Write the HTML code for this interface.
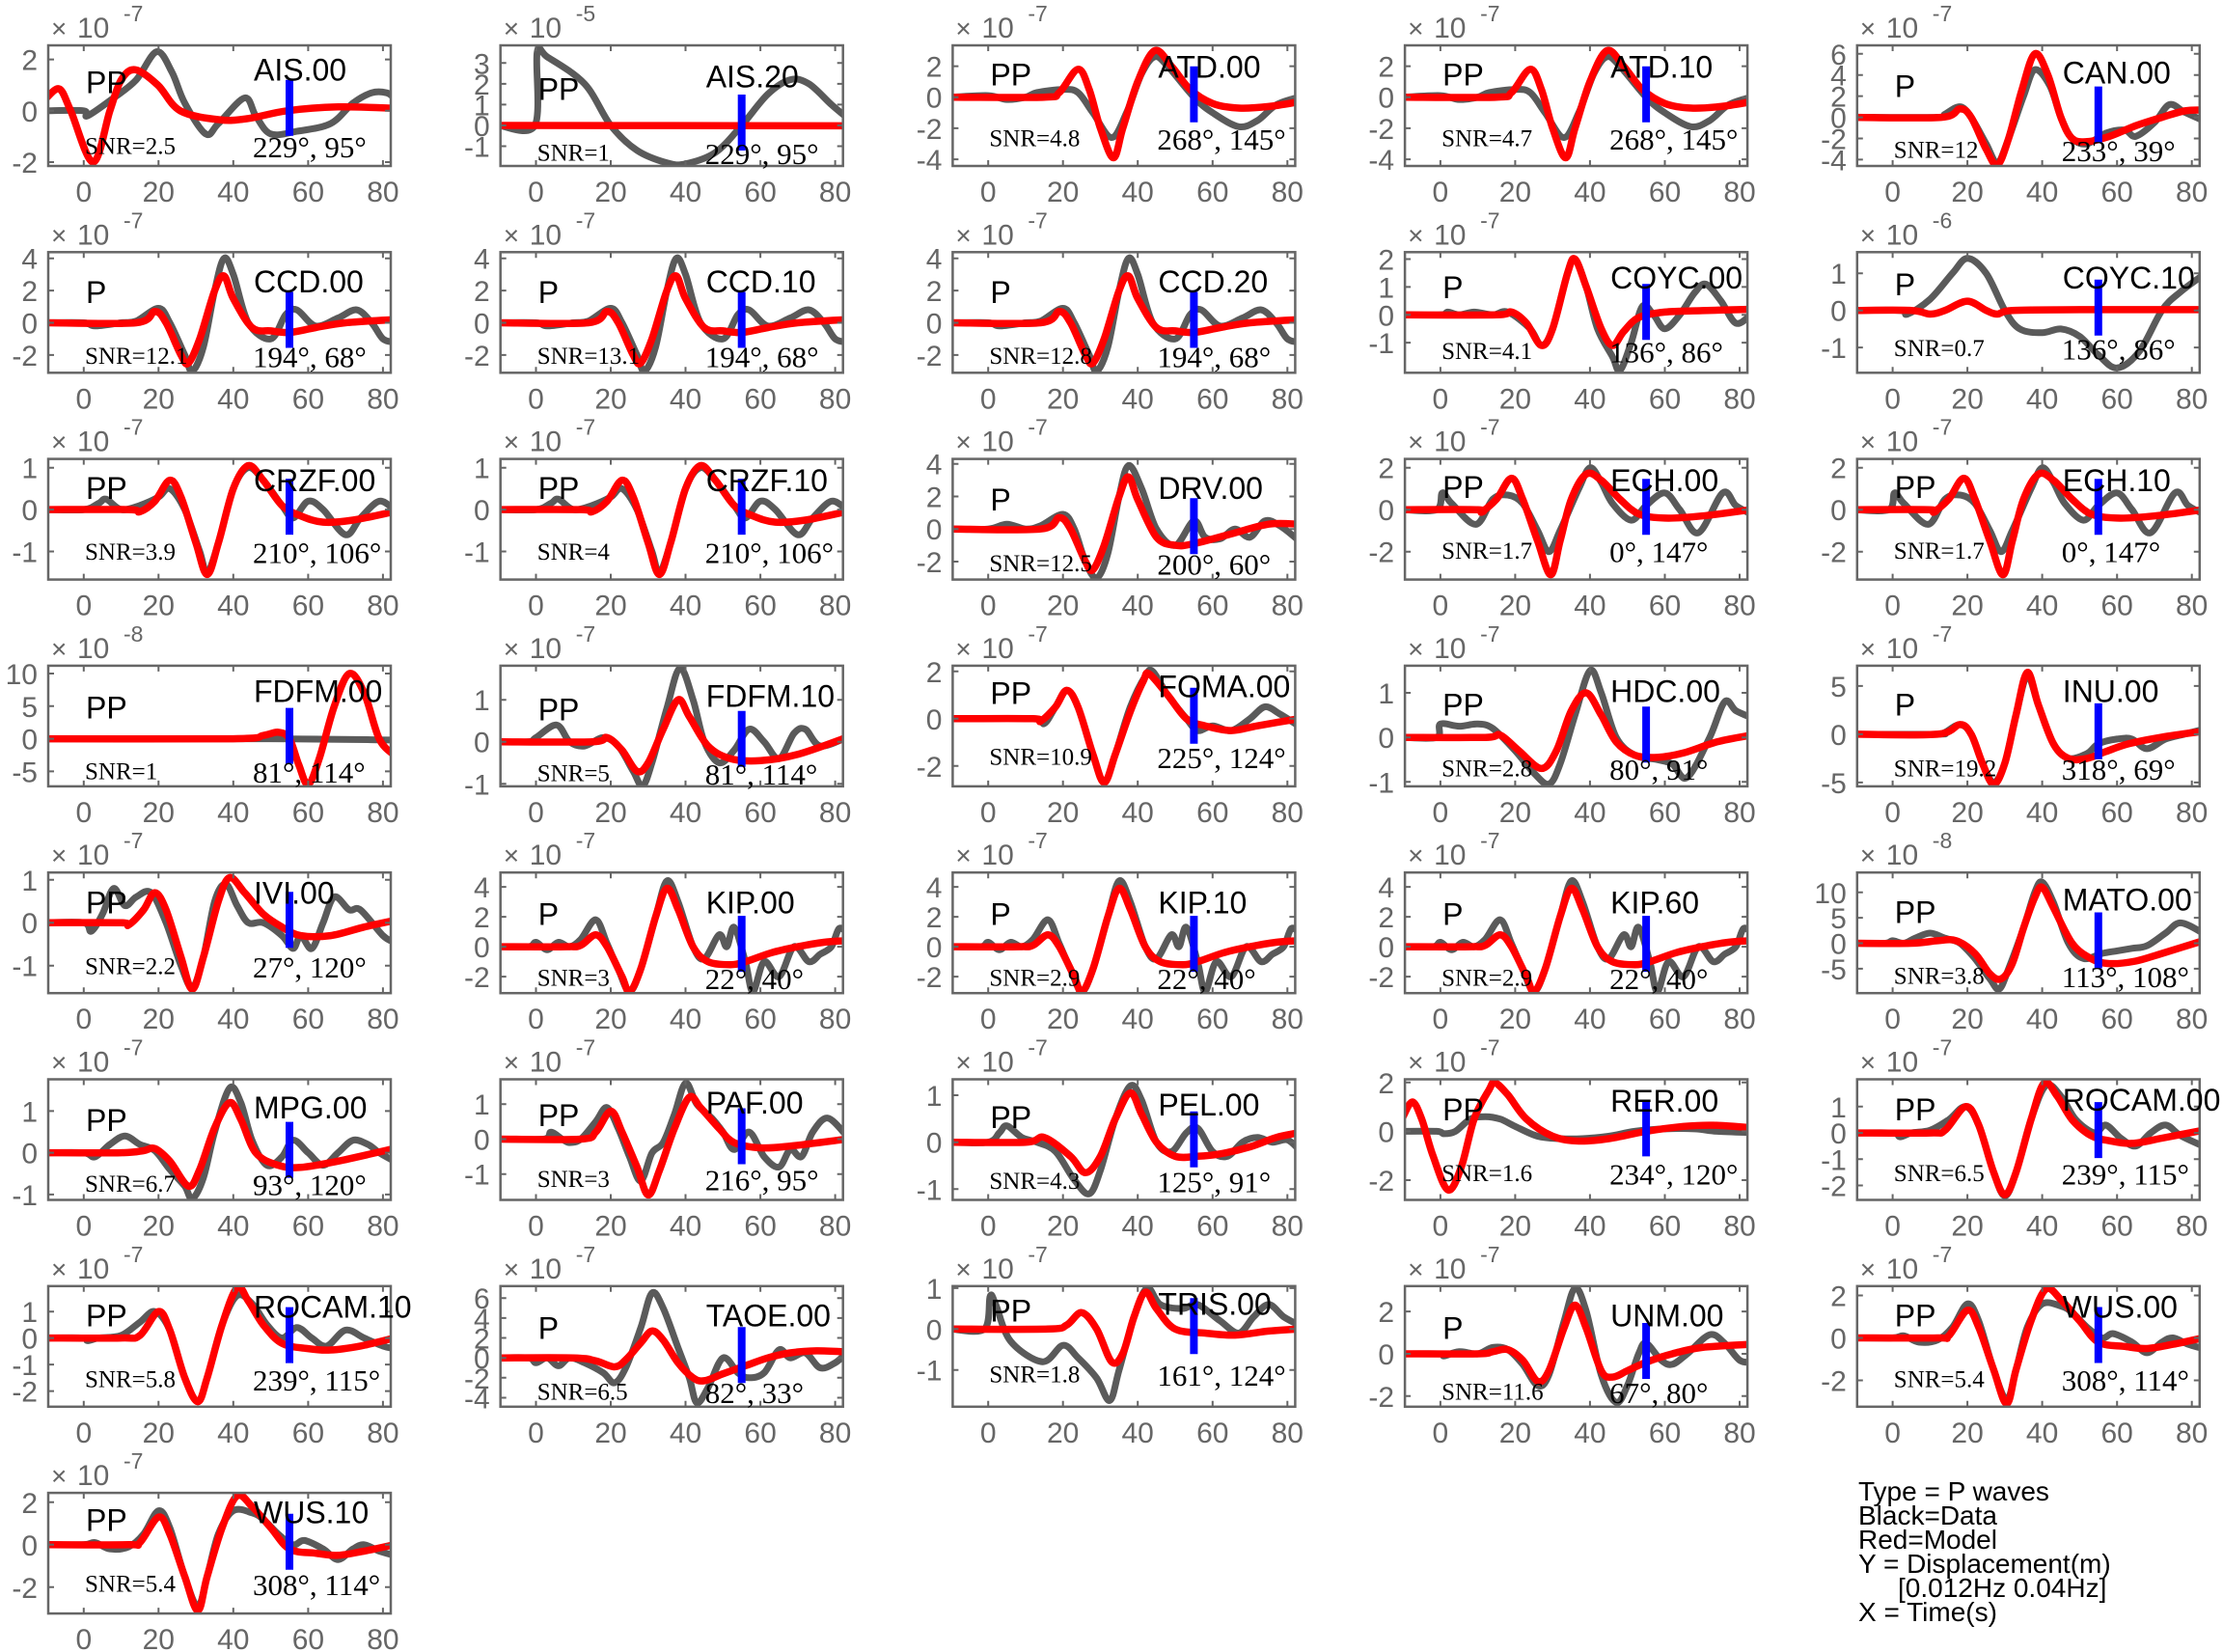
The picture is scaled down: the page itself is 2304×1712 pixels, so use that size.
<!DOCTYPE html>
<html><head><meta charset="utf-8"><style>
html,body{margin:0;padding:0;background:#fff;}
svg{display:block;}
.tk{font-family:"Liberation Sans",sans-serif;font-size:30px;fill:#666;}
.nm{font-family:"Liberation Sans",sans-serif;font-size:32px;fill:#000;}
.sr{font-family:"Liberation Serif",serif;fill:#000;}
.lg{font-family:"Liberation Sans",sans-serif;font-size:28px;fill:#000;}
</style></head><body>
<svg id="s" width="2304" height="1712" xmlns="http://www.w3.org/2000/svg">
<rect width="2304" height="1712" fill="#fff"/>
<g id="g"></g>
<text class="lg" x="1926" y="1555">Type = P waves</text>
<text class="lg" x="1926" y="1580">Black=Data</text>
<text class="lg" x="1926" y="1605">Red=Model</text>
<text class="lg" x="1926" y="1630">Y = Displacement(m)</text>
<text class="lg" x="1967" y="1655">[0.012Hz 0.04Hz]</text>
<text class="lg" x="1926" y="1680">X = Time(s)</text>
</svg>
<script>
const KIPD=[-10,0,-2,0,0,0.3,3,-0.2,6,0.3,9,0,12,0.5,16,1.8,19,0.2,22,-1.5,25,-3,28,-1.5,32,2,35,4.4,38,3,42,0,45,-0.8,49,0.8,51,0,53,1.3,56,-1,58,-3,61,-1,65,-2,69,0,73,-1,76,-0.5,79,0,81,1.2,83,1.0];
const KIPM=[-10,0,8,0,12,0.1,16,0.8,19,0,23,-2,25,-3,28,-1.5,32,2,35,3.9,38,2.5,42,0,46,-1,52,-1.2,56,-1,63,-0.4,70,0,77,0.3,83,0.4];
const CCDD=[-10,0,0,0,3,-0.2,10,0,14,0.1,20,0.9,23,0,27,-2,29,-3,32,-1.5,35,2,37.5,4,40,3,44,0,50,-1,54,0.5,57,0.8,62,-0.2,68,0.3,73,0.8,77,0,80,-1,83,-1.2];
const CCDM=[-10,0,14,0,19,0.7,22,0,26,-2,28,-2.5,31,-1,35,2,37.5,2.9,40,1.5,45,-0.3,50,-0.5,55,-0.6,62,-0.3,70,0,83,0.2];
const ATDD=[-10,0,0,0.1,5,-0.15,10,0,13,0.3,20,0.5,24,0.3,28,-1,33,-2.6,37,-1,41,1.5,44.5,2.6,48,2.0,55,0,60,-1,67,-1.9,72,-1.5,77,-0.5,83,0];
const ATDM=[-10,0,15,0,19,0.3,24,1.8,27,0.5,30,-2,33.5,-3.9,36,-2,40,1,44.5,3,49,2,54,0.5,60,-0.4,67,-0.7,75,-0.6,83,-0.3];
const CRZD=[-10,0,0,0,4,0.15,6,0.25,10,0,15,0.1,20,0.3,23,0.5,27,0,31,-1,33,-1.5,36,-0.8,40,0.5,44,1.0,48,0.7,53,0.1,56,-0.2,60,0.2,64,0,70,-0.6,74,-0.2,79,0.2,83,0];
const CRZM=[-10,0,12,0,15,-0.05,19,0.2,23,0.7,26,0.3,30,-0.8,33,-1.55,36,-0.8,40,0.5,44,1.05,48,0.7,53,0.1,58,-0.15,64,-0.3,72,-0.25,83,-0.05];
const ECHD=[-10,0,-1,0,0.5,0.8,3,0.3,9.5,-0.7,14,0.5,18,0.7,22,0.3,26,-1.0,29,-2.0,32,-1,37,1.0,40,2.0,43,1.3,46,0.3,51,-0.5,55,0.2,60,0.8,64,0,69,-1.1,75.5,0.8,79,0.2,83,-0.2];
const ECHM=[-10,0,10,0,11,-0.1,15,0.5,19,1.5,22,0.5,26,-1.5,29.5,-3.1,32,-1.5,35,0.5,39,1.7,43,1.4,48,0.5,53,-0.2,60,-0.4,70,-0.3,83,0];
const WUSD=[-10,0,0,0,3,0.1,7,-0.2,12,-0.1,16,0.5,20,1.6,23,0.8,27,-1.5,30.5,-2.9,33,-1.5,36,0.5,40,1.6,45,1.5,48,1.2,52,0.5,56,0,59,0.2,64,-0.2,68,-0.7,72,-0.2,75,0,79,-0.3,83,-0.5];
const WUSM=[-10,0,12,0,15,0.1,20,1.3,23,0.5,27,-1.5,30.5,-3.1,33,-1.5,37,0.8,41,2.3,45,1.8,50,0.8,55,-0.2,62,-0.4,68,-0.5,75,-0.3,83,0];
const P=[
{n:'AIS.00',ph:'PP',e:'-7',yl:[-2.15,2.55],tk:[-2,0,2],snr:'2.5',az:'229°, 95°',o:[25,38],
 D:[-10,0,0,0,1,-0.2,8,0.5,14,1.2,19.5,2.3,23.6,1.5,27,0.3,32.6,-0.9,36,-0.5,43,0.5,46,-0.2,50,-0.9,57,-0.8,66,-0.5,72,0.3,77,0.7,81,0.7,83,0.5],
 M:[-10,0.5,-6.5,0.85,-3.5,0,2.5,-2.0,7,0,10,1.2,13.8,1.6,19.8,1.0,25.8,0,36.4,-0.35,44,-0.3,54.4,0,68,0.15,83,0.1]},
{n:'AIS.20',ph:'PP',e:'-5',yl:[-1.95,3.85],tk:[-1,0,1,2,3],snr:'1',az:'229°, 95°',o:[32,45],
 D:[-10,0,-0.3,0,0.3,3.5,3,3.3,13,2,20,0,27,-1.2,35,-1.8,40,-1.85,48,-1.3,55,0,62,1.5,68,2.2,73,2.0,79,1.0,83,0.4],
 M:[-10,0,83,-0.02]},
{n:'ATD.00',ph:'PP',e:'-7',yl:[-4.43,3.34],tk:[-4,-2,0,2],snr:'4.8',az:'268°, 145°',o:[22,30],D:ATDD,M:ATDM},
{n:'ATD.10',ph:'PP',e:'-7',yl:[-4.43,3.34],tk:[-4,-2,0,2],snr:'4.7',az:'268°, 145°',o:[22,30],D:ATDD,M:ATDM},
{n:'CAN.00',ph:'P',e:'-7',yl:[-4.6,6.8],tk:[-4,-2,0,2,4,6],snr:'12',az:'233°, 39°',o:[28,42],
 D:[-10,0,12,0,14,0.3,18,1.0,21,0,25,-2.5,28,-4.3,31,-2,35,2,38,4.5,42,3,45,0,48,-2,52,-2.5,57,-1.5,62,-1.2,65,-1.8,70,-0.5,74,1.2,78,0.5,83,-0.3],
 M:[-10,0,13,0,18,0.8,21,0,25,-3,28,-4.5,31,-2,34.5,2.5,38,6,41.5,4,45,0,48,-2,52,-2.3,58,-1.8,65,-0.8,72,0,78,0.6,83,0.7]},
{n:'CCD.00',ph:'P',e:'-7',yl:[-3.1,4.38],tk:[-2,0,2,4],snr:'12.1',az:'194°, 68°',o:[30,41],D:CCDD,M:CCDM},
{n:'CCD.10',ph:'P',e:'-7',yl:[-3.1,4.38],tk:[-2,0,2,4],snr:'13.1',az:'194°, 68°',o:[30,41],D:CCDD,M:CCDM},
{n:'CCD.20',ph:'P',e:'-7',yl:[-3.1,4.38],tk:[-2,0,2,4],snr:'12.8',az:'194°, 68°',o:[30,41],D:CCDD,M:CCDM},
{n:'COYC.00',ph:'P',e:'-7',yl:[-2.08,2.25],tk:[-1,0,1,2],snr:'4.1',az:'136°, 86°',o:[26,36],
 D:[-10,0,0,0,2,0.1,5,0,9,0.1,14,0,18,0.1,24,-0.5,27,-1.1,30,-0.5,34,1.5,36,2.0,39,1,42,-0.5,46,-1.5,48,-2,51,-1,54,0.3,57,0,60,-0.5,64,0,68,0.8,71,1.1,75,0.5,79,-0.3,83,0],
 M:[-10,0,15,0,19,0.1,23,-0.3,27,-1.1,30,-0.5,34,1.5,36,2.0,39,1,43,-0.5,46,-1.1,49,-0.6,53,-0.1,60,0.1,70,0.15,83,0.2]},
{n:'COYC.10',ph:'P',e:'-6',yl:[-1.68,1.57],tk:[-1,0,1],snr:'0.7',az:'136°, 86°',o:[26,33],
 D:[-10,0,2,0,4,-0.1,10,0.3,16,1.0,20,1.4,25,1.0,30,0,34,-0.5,40,-0.6,45,-0.5,50,-0.7,55,-1.2,60,-1.55,66,-1.1,72,0,77,0.5,83,0.95],
 M:[-10,0,5,0,10,-0.1,14,0,20,0.25,25,0,28,-0.1,32,0,50,0.02,83,0.02]},
{n:'CRZF.00',ph:'PP',e:'-7',yl:[-1.67,1.21],tk:[-1,0,1],snr:'3.9',az:'210°, 106°',o:[22,30],D:CRZD,M:CRZM},
{n:'CRZF.10',ph:'PP',e:'-7',yl:[-1.67,1.21],tk:[-1,0,1],snr:'4',az:'210°, 106°',o:[22,30],D:CRZD,M:CRZM},
{n:'DRV.00',ph:'P',e:'-7',yl:[-3.1,4.3],tk:[-2,0,2,4],snr:'12.5',az:'200°, 60°',o:[30,42],
 D:[-10,0,0,0,5,0.3,10,0,14,0.2,20,0.9,23,0,26,-2,29,-3,32,-1.5,35,2,37.5,3.9,41,2.5,45,0,50,-1,55,0.5,58,-0.5,62,-0.6,66,0,70,-0.5,74,0.5,78,0.2,83,-0.7],
 M:[-10,0,14,0,19,0.7,22,0,26,-2,28,-2.5,31,-1,35,2,37.5,3.2,40,1.8,45,-0.5,50,-1,55,-0.9,65,-0.3,75,0.3,83,0.3]},
{n:'ECH.00',ph:'PP',e:'-7',yl:[-3.33,2.42],tk:[-2,0,2],snr:'1.7',az:'0°, 147°',o:[22,29],D:ECHD,M:ECHM},
{n:'ECH.10',ph:'PP',e:'-7',yl:[-3.33,2.42],tk:[-2,0,2],snr:'1.7',az:'0°, 147°',o:[22,29],D:ECHD,M:ECHM},
{n:'FDFM.00',ph:'PP',e:'-8',yl:[-7.3,11.2],tk:[-5,0,5,10],snr:'1',az:'81°, 114°',o:[26,43],
 D:[-10,0,50,0,83,-0.2],
 M:[-10,0,40,0,48,0.5,52,1,55,0,57.5,-4,60,-7,63,-3,67,5,71,10,75,7,79,0,83,-2.5]},
{n:'FDFM.10',ph:'PP',e:'-7',yl:[-1.06,1.81],tk:[-1,0,1],snr:'5',az:'81°, 114°',o:[31,45],
 D:[-10,0,-2,0,0,0.1,5.5,0.4,9,0,13,-0.1,18,0.1,22,-0.1,26,-0.7,28.5,-1.05,31,-0.5,35,0.8,38.5,1.75,42,1.0,45,0,49,-0.5,53,-0.2,57,0.3,61,0,65,-0.4,69,0.2,72,0.3,76,-0.1,83,0.1],
 M:[-10,0,15,0,19,0.1,23,-0.2,27,-0.7,30,-0.5,34,0.3,38,1.0,41,0.6,46,-0.1,52,-0.4,60,-0.45,70,-0.3,83,0.1]},
{n:'FOMA.00',ph:'PP',e:'-7',yl:[-2.86,2.24],tk:[-2,0,2],snr:'10.9',az:'225°, 124°',o:[21,28],
 D:[-10,0,12,0,15,-0.2,18,0.5,21,1.2,24,0.5,28,-1.5,31,-2.7,34,-1.5,38,0.5,42,1.8,44,2.0,48,1.0,53,0,56,-0.5,60,-0.3,65,-0.5,70,0,74,0.5,78,0.2,83,-0.3],
 M:[-10,0,12,0,14,-0.1,18,0.5,21,1.2,24,0.5,28,-1.5,31,-2.7,34,-1.5,38,0.3,41.5,1.6,43,1.9,48,1.0,53,0,58,-0.3,65,-0.5,72,-0.3,83,0]},
{n:'HDC.00',ph:'PP',e:'-7',yl:[-1.1,1.61],tk:[-1,0,1],snr:'2.8',az:'80°, 91°',o:[26,40],
 D:[-10,0,-1,0,0,0.3,5,0.25,10,0.3,14,0.2,20,-0.3,25,-0.8,29,-1.05,32,-0.6,36,0.5,40,1.5,43,1.0,47,0,52,-0.4,58,-0.5,62,-0.6,66,-0.9,72,0,76,0.8,79,0.6,83,0.45],
 M:[-10,0,12,0,16,0.05,21,-0.3,27,-0.7,31,-0.3,35,0.6,39,1.0,43,0.5,47,-0.1,52,-0.4,58,-0.45,65,-0.35,74,-0.1,83,0.05]},
{n:'INU.00',ph:'P',e:'-7',yl:[-5.4,7.1],tk:[-5,0,5],snr:'19.2',az:'318°, 69°',o:[26,40],
 D:[-10,0,12,0,14,0.2,18,1.0,21,0,24,-3,27,-5,30,-3,33,2,36,6,39,3,43,-1,47,-2.5,52,-2,55,-1,60,-0.5,64,-0.5,68,-1.5,73,-0.5,78,0,83,0.5],
 M:[-10,0,12,0,18,1,21,0,24,-3,27,-5.2,30,-3,33,2,36,6.4,39,3,43,-1,47,-2.5,52,-2.5,57,-1.8,63,-1,72,-0.3,83,0.3]},
{n:'IVI.00',ph:'PP',e:'-7',yl:[-1.64,1.17],tk:[-1,0,1],snr:'2.2',az:'27°, 120°',o:[21,31],
 D:[-10,0,0,0,2,-0.2,5,0.2,8,0.8,11,0.4,14,0.6,18,0.7,22,0,26,-1,29,-1.5,32,-0.8,35,0.5,38,0.9,41,0.4,44,0,48,0,53,-0.3,56,-0.6,58,-0.3,61,-0.6,64,0,67,0.6,71,0.3,74,0.3,80,-0.3,83,-0.45],
 M:[-10,0,10,0,12,-0.05,16,0.3,19,0.7,22,0.3,26,-0.8,29,-1.55,32,-0.8,36,0.5,39,1.05,43,0.7,48,0.2,53,-0.1,58,-0.3,66,-0.3,75,-0.1,83,0.05]},
{n:'KIP.00',ph:'P',e:'-7',yl:[-3.1,4.96],tk:[-2,0,2,4],snr:'3',az:'22°, 40°',o:[31,43],D:KIPD,M:KIPM},
{n:'KIP.10',ph:'P',e:'-7',yl:[-3.1,4.96],tk:[-2,0,2,4],snr:'2.9',az:'22°, 40°',o:[31,43],D:KIPD,M:KIPM},
{n:'KIP.60',ph:'P',e:'-7',yl:[-3.1,4.96],tk:[-2,0,2,4],snr:'2.9',az:'22°, 40°',o:[31,43],D:KIPD,M:KIPM},
{n:'MATO.00',ph:'PP',e:'-8',yl:[-9.8,13.9],tk:[-5,0,5,10],snr:'3.8',az:'113°, 108°',o:[28,41],
 D:[-10,0,-2,0,0,0.5,3,0,6,1,10,2,14,1,18,0,22,-3,26,-7,28.5,-9,31,-5,35,3,38,10,40,12,43,8,47,0,51,-3,56,-2,60,-1.5,64,-1,68,-0.5,73,2,77,4,83,2],
 M:[-10,0,5,0,12,0.5,17,0.5,22,-2,26,-6,29,-7,32,-4,35,3,38,9,40,11,43,7,48,0,53,-3,58,-4,65,-3.5,72,-2,83,0.5]},
{n:'MPG.00',ph:'PP',e:'-7',yl:[-1.13,1.76],tk:[-1,0,1],snr:'6.7',az:'93°, 120°',o:[29,42],
 D:[-10,0,0,0,3,-0.1,7,0.2,11,0.4,15,0.2,19,0.05,23,-0.4,27,-0.8,29,-1.1,32,-0.6,35,0.5,39,1.55,42,1.2,45,0.3,49,-0.3,53,-0.1,56,0.3,60,0,64,-0.3,68,0,72,0.3,76,0.2,79,0,83,-0.2],
 M:[-10,0,10,0,16,0.05,19,0.1,23,-0.2,28,-0.8,31,-0.4,35,0.6,39,1.2,42,0.8,46,0,52,-0.3,58,-0.35,68,-0.2,83,0.1]},
{n:'PAF.00',ph:'PP',e:'-7',yl:[-1.74,1.71],tk:[-1,0,1],snr:'3',az:'216°, 95°',o:[24,37],
 D:[-10,0,2,0,4,0.2,7,0,9,-0.1,12,0,16,0.5,19,0.9,22,0.3,25,-0.5,28,-1.2,31,-0.4,34,-0.1,37,0.7,40,1.6,43,1.0,47,0.6,50,0.2,53,-0.3,57,0.2,61,-0.5,65,-0.8,68,-0.3,71,-0.5,74,0.2,78,0.6,83,0.1],
 M:[-10,0,12,0,16,0.2,20,0.8,23,0.2,27,-0.8,30,-1.6,33,-0.9,37,0.3,41,1.2,44,0.9,49,0.3,53,-0.1,60,-0.25,68,-0.2,83,0]},
{n:'PEL.00',ph:'PP',e:'-7',yl:[-1.23,1.34],tk:[-1,0,1],snr:'4.3',az:'125°, 91°',o:[26,39],
 D:[-10,0,0,0,3,0.2,5,0.35,9,0.1,13,0,18,-0.2,23,-0.8,27,-1.1,30,-0.6,34,0.5,38,1.2,41,0.9,45,0,49,-0.2,53,0.2,56,0.3,60,-0.2,64,-0.3,68,0,72,0.1,76,0,80,0.05,83,-0.15],
 M:[-10,0,10,0,15,0.1,22,-0.3,26,-0.65,30,-0.3,34,0.5,38,1.05,41,0.6,45,0,50,-0.3,56,-0.3,62,-0.25,70,-0.1,77,0.1,83,0.2]},
{n:'RER.00',ph:'PP',e:'-7',yl:[-2.81,2.13],tk:[-2,0,2],snr:'1.6',az:'234°, 120°',o:[22,31],
 D:[-10,0,-1,0,1,-0.1,4,0,8,0.5,12,0.6,16,0.5,20,0.2,26,-0.2,32,-0.3,38,-0.3,45,-0.2,52,0,60,0.1,68,0.1,74,0,83,-0.05],
 M:[-10,0.6,-7.5,1.2,-5,0.5,-2,-1,2,-2.4,5.5,-1.5,9,0.5,13,1.7,14.5,2.0,18,1.5,23,0.5,30,-0.2,37,-0.4,45,-0.3,55,0,65,0.2,73,0.25,83,0.15]},
{n:'ROCAM.00',ph:'PP',e:'-7',yl:[-2.55,2.04],tk:[-2,-1,0,1],snr:'6.5',az:'239°, 115°',o:[21,31],
 D:[-10,0,0,0,2,-0.15,5,0,10,0.1,15,0.5,19.5,1.0,23,0.3,27,-1.5,30,-2.4,33,-1.5,37,0.5,41,1.8,45,1.4,49,0.5,54,0,57,0.3,61,-0.2,65,-0.5,69,0,73,0.3,77,-0.1,83,-0.5],
 M:[-10,0,10,0,14,0.1,19.5,1.0,23,0.3,27,-1.5,30,-2.35,33,-1.5,37,0.5,40.5,1.9,44,1.4,48,0.5,53,-0.1,58,-0.3,64,-0.4,72,-0.2,83,0.1]},
{n:'ROCAM.10',ph:'PP',e:'-7',yl:[-2.59,1.96],tk:[-2,-1,0,1],snr:'5.8',az:'239°, 115°',o:[21,30],
 D:[-10,0,0,0,1,-0.1,4,0,10,0.1,15,0.6,19,1.0,23,0.3,27,-1.5,30.5,-2.4,33,-1.5,37,0.5,41,1.6,45,1.3,49,0.5,53,0,57,0.4,61,0,65,-0.3,70,0.3,75,0,80,-0.3,83,-0.4],
 M:[-10,0,10,0,15,0.1,20,1.0,23,0.3,27,-1.5,30.5,-2.4,33,-1.5,37,0.5,41,1.9,44,1.4,48,0.5,53,-0.2,60,-0.4,66,-0.45,74,-0.3,83,0]},
{n:'TAOE.00',ph:'P',e:'-7',yl:[-4.9,7.2],tk:[-4,-2,0,2,4,6],snr:'6.5',az:'82°, 33°',o:[30,43],
 D:[-10,0,-2,0,0,-0.5,3,0,6,-0.8,9,0,13,-0.5,18,-1.5,21,-2.5,24,-1,28,3,31,6.5,34,5,38,1,41,-2,43,-4.5,46,-3,50,0,54,-1.5,57,-2,61,-1.5,65,0.8,68,0,72,0.5,76,-1,80,-0.5,83,0.5],
 M:[-10,0,10,0,16,-0.3,21,-0.9,24,-0.2,28,1.5,31,2.7,34,1.8,38,-0.5,42,-2,45,-2.3,50,-1.6,56,-0.8,62,0,68,0.5,75,0.7,83,0.6]},
{n:'TRIS.00',ph:'PP',e:'-7',yl:[-1.9,1.05],tk:[-1,0,1],snr:'1.8',az:'161°, 124°',o:[18,25],
 D:[-10,0,-1,0,0.5,0.8,2,0.6,6,-0.3,14.5,-0.8,20,-0.4,24,-0.7,29,-1.2,32.5,-1.75,35,-1,39,0.3,42.5,1.0,46,0.6,52,0.5,56,0.6,62,0.2,67,-0.1,71,0.3,75,0.6,79,0.3,83,0.1],
 M:[-10,0,16,0,21,0.1,25,0.4,29,0,33,-0.8,36,-0.6,39,0.3,42,0.9,45,0.5,50,0,58,-0.1,66,-0.15,75,-0.05,83,0]},
{n:'UNM.00',ph:'P',e:'-7',yl:[-2.5,3.2],tk:[-2,0,2],snr:'11.6',az:'67°, 80°',o:[30,43],
 D:[-10,0,0,0,1,-0.1,5,0.1,10,0,14,0.3,18,0.2,22,-0.5,26,-1.5,29,-1,33,1.5,36,3.1,39,2,43,-1,47,-2.3,50,-1.5,53,0,55,0.5,59,-0.3,62,-0.5,66,0,72,0.9,76,0.5,80,-0.3,83,-0.4],
 M:[-10,0,10,0,14,0.1,18,0.2,22,-0.3,26,-1.3,29,-0.8,33,1.2,36,2.3,39,1.2,43,-0.8,46,-1.1,50,-0.8,55,-0.4,62,0,70,0.3,83,0.45]},
{n:'WUS.00',ph:'PP',e:'-7',yl:[-3.24,2.44],tk:[-2,0,2],snr:'5.4',az:'308°, 114°',o:[21,30],D:WUSD,M:WUSM},
{n:'WUS.10',ph:'PP',e:'-7',yl:[-3.24,2.44],tk:[-2,0,2],snr:'5.4',az:'308°, 114°',o:[20,28],D:WUSD,M:WUSM}
];
function spline(pts,X,Y){
  const p=[];for(let i=0;i<pts.length;i+=2)p.push([X(pts[i]),Y(pts[i+1])]);
  let d='M'+p[0][0].toFixed(1)+' '+p[0][1].toFixed(1);
  for(let i=0;i<p.length-1;i++){
    const p0=p[i-1]||p[i],p1=p[i],p2=p[i+1],p3=p[i+2]||p[i+1];
    const c1=[p1[0]+(p2[0]-p0[0])/6,p1[1]+(p2[1]-p0[1])/6];
    const c2=[p2[0]-(p3[0]-p1[0])/6,p2[1]-(p3[1]-p1[1])/6];
    d+='C'+c1.map(v=>v.toFixed(1)).join(' ')+' '+c2.map(v=>v.toFixed(1)).join(' ')+' '+p2[0].toFixed(1)+' '+p2[1].toFixed(1);
  }
  return d;
}
let o='';
const W=355,H=125,XMIN=-9.5,XR=91.6;
P.forEach((p,i)=>{
  const r=Math.floor(i/5),c=i%5;
  const L=50+c*468.7,T=47+r*214.3,B=T+H,R=L+W;
  const X=t=>L+(t-XMIN)/XR*W;
  const Y=v=>T+(p.yl[1]-v)/(p.yl[1]-p.yl[0])*H;
  o+=`<clipPath id="c${i}"><rect x="${L}" y="${T}" width="${W}" height="${H}"/></clipPath>`;
  o+=`<g clip-path="url(#c${i})" fill="none" stroke-linejoin="round" stroke-linecap="round">`;
  o+=`<path d="${spline(p.D,X,Y)}" stroke="#5a5a5a" stroke-width="7"/>`;
  o+=`<path d="${spline(p.M,X,Y)}" stroke="#ff0000" stroke-width="7.5"/>`;
  o+=`</g>`;
  let tk='';
  [0,20,40,60,80].forEach(t=>{const x=X(t).toFixed(1);tk+=`M${x} ${B}v-6M${x} ${T}v6`;
    o+=`<text class="tk" x="${x}" y="${B+37}" text-anchor="middle">${t}</text>`;});
  p.tk.forEach(v=>{const y=Y(v).toFixed(1);tk+=`M${L} ${y}h6M${R} ${y}h-6`;
    o+=`<text class="tk" x="${L-11}" y="${(Y(v)+11).toFixed(1)}" text-anchor="end">${v}</text>`;});
  o+=`<path d="${tk}" stroke="#666" stroke-width="2" fill="none"/>`;
  o+=`<rect x="${L}" y="${T}" width="${W}" height="${H}" fill="none" stroke="#666" stroke-width="2.5"/>`;
  o+=`<text class="tk" x="${L+3}" y="${T-8}" style="font-size:28px">×</text>`;
  o+=`<text class="tk" x="${L+30}" y="${T-8}" style="font-size:30px">10</text>`;
  o+=`<text class="tk" x="${L+78}" y="${T-25}" style="font-size:23px">${p.e}</text>`;
  const y0=Y(0)-3, bx=X(55);
  const b1=Math.max(T+2,y0-29), b2=Math.min(B-2,y0+29);
  o+=`<line x1="${bx.toFixed(1)}" x2="${bx.toFixed(1)}" y1="${b1.toFixed(1)}" y2="${b2.toFixed(1)}" stroke="#0000ff" stroke-width="8"/>`;
  const nc=p.o[0],pc=p.o[1],sc=pc+66;
  o+=`<text class="nm" x="${L+39}" y="${T+pc+11.5}">${p.ph}</text>`;
  o+=`<text class="nm" x="${L+213}" y="${T+nc+11.5}">${p.n}</text>`;
  o+=`<text class="sr" x="${L+38}" y="${T+sc+8.5}" style="font-size:25px">SNR=${p.snr}</text>`;
  o+=`<text class="sr" x="${L+212}" y="${T+sc+12}" style="font-size:31px">${p.az}</text>`;
});
document.getElementById('g').innerHTML=o;
</script>
</body></html>
